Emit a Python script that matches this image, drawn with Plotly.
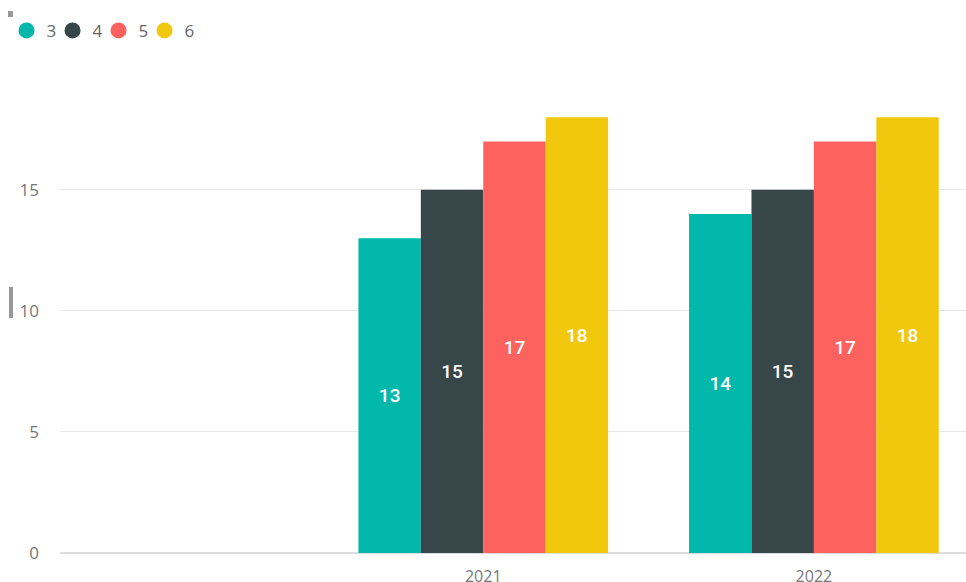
import plotly.graph_objects as go

years = [2021, 2022]
series_names = ["3", "4", "5", "6"]
series_values = {
    "3": [13, 14],
    "4": [15, 15],
    "5": [17, 17],
    "6": [18, 18],
}
colors = {"3": "#01B8AA", "4": "#374649", "5": "#FD625E", "6": "#F2C80F"}
y_ticks = [0, 5, 10, 15]
x_ticks = [2021, 2022]

fig = go.Figure()
for name in series_names:
    fig.add_trace(go.Bar(
        x=years, y=series_values[name], name=name,
        marker=dict(color=colors[name], line=dict(width=0)),
        text=series_values[name], textposition="inside",
        insidetextanchor="middle", textangle=0,
        textfont=dict(color="white", size=19, family="Roboto", weight=500),
        showlegend=False,
    ))
    fig.add_trace(go.Scatter(
        x=[None], y=[None], mode="markers", name=name,
        marker=dict(color=colors[name], size=18, symbol="circle"),
        showlegend=True,
    ))
# invisible spacer entry so the last legend label is not clipped
fig.add_trace(go.Scatter(
    x=[None], y=[None], mode="markers", name=" ",
    marker=dict(color="rgba(0,0,0,0)", size=1), showlegend=True, hoverinfo="skip",
))

fig.update_layout(
    width=966, height=582,
    margin=dict(l=60, r=0, t=93, b=29, autoexpand=False),
    plot_bgcolor="white", paper_bgcolor="white",
    barmode="group", bargap=0.245, bargroupgap=0,
    font=dict(family="Open Sans", color="#777777"),
    legend=dict(
        orientation="h", x=-0.059, y=1.135, xanchor="left", yanchor="middle",
        font=dict(size=17, color="#666666"), bgcolor="rgba(0,0,0,0)",
        itemwidth=30, tracegroupgap=0, itemclick=False,
        entrywidth=1, entrywidthmode="pixels",
    ),
    xaxis=dict(
        range=[2019.72, 2022.46], tickvals=x_ticks, ticktext=[str(v) for v in x_ticks],
        showgrid=False, zeroline=False, showline=False,
        tickfont=dict(size=16, color="#777777"), ticklabelstandoff=12,
    ),
    yaxis=dict(
        range=[0, 19], tickvals=y_ticks, showgrid=True, gridcolor="#E8E8E8",
        gridwidth=1, zeroline=True, zerolinecolor="#DDDDDD", zerolinewidth=2,
        tickfont=dict(size=17, color="#777777"), ticklabelstandoff=20,
    ),
    shapes=[
        dict(type="rect", xref="paper", yref="paper", layer="above",
             x0=-52/906, x1=-47/906, y0=1+(93-11)/460, y1=1+(93-17)/460,
             fillcolor="#999999", line=dict(width=0)),
        dict(type="rect", xref="paper", yref="paper",
             x0=-51/906, x1=-47/906, y0=(553-287)/460, y1=(553-318)/460,
             fillcolor="#999999", line=dict(width=0)),
    ],
)

fig.write_html(
    "out.html",
    config={"displayModeBar": False},
    post_script="document.body.style.margin='0px';document.body.style.overflow='hidden';",
)
